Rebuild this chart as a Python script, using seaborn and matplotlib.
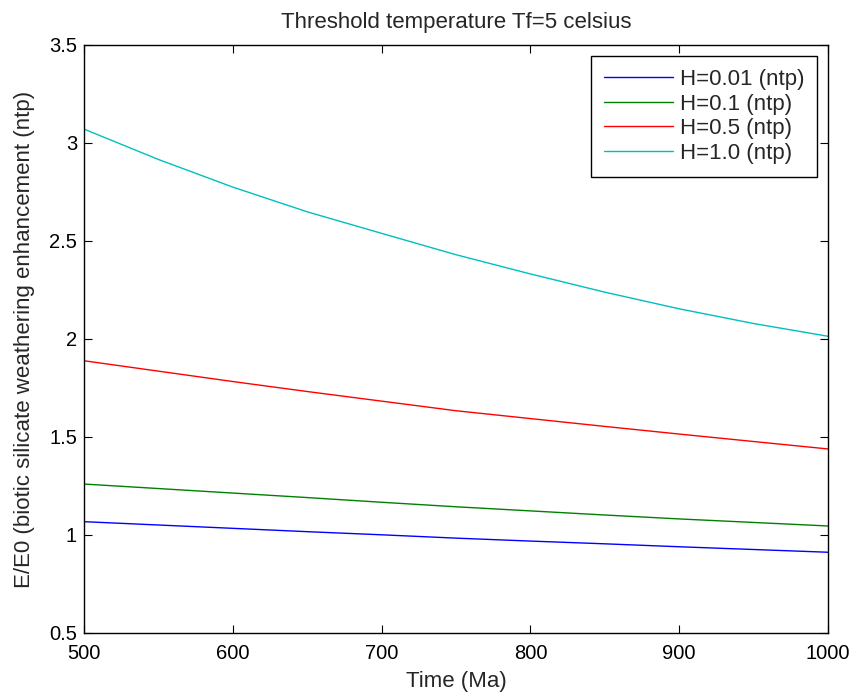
import matplotlib
matplotlib.use("Agg")
import matplotlib.pyplot as plt
import seaborn as sns
import pandas as pd

# Data
time_ma = [500, 550, 600, 650, 700, 750, 800, 850, 900, 950, 1000]
h001 = [1.068, 1.051, 1.034, 1.017, 1.001, 0.984, 0.969, 0.955, 0.940, 0.926, 0.912]
h01 = [1.260, 1.237, 1.214, 1.191, 1.167, 1.144, 1.123, 1.102, 1.082, 1.064, 1.046]
h05 = [1.889, 1.836, 1.783, 1.732, 1.683, 1.634, 1.594, 1.554, 1.515, 1.477, 1.439]
h10 = [3.071, 2.916, 2.775, 2.649, 2.539, 2.430, 2.332, 2.239, 2.154, 2.079, 2.014]
series_names = ["H=0.01 (ntp)", "H=0.1 (ntp)", "H=0.5 (ntp)", "H=1.0 (ntp)"]
colors = ["#0000ff", "#008000", "#ff0000", "#00bfbf"]
x_ticks = [500, 600, 700, 800, 900, 1000]
y_ticks = [0.5, 1, 1.5, 2, 2.5, 3, 3.5]
y_tick_labels = ["0.5", "1", "1.5", "2", "2.5", "3", "3.5"]

rows = []
for name, vals in zip(series_names, [h001, h01, h05, h10]):
    for t, v in zip(time_ma, vals):
        rows.append({"Time": t, "E": v, "Series": name})
df = pd.DataFrame(rows)

sns.set_style("ticks")
plt.rcParams["font.family"] = ["Liberation Sans", "DejaVu Sans"]

fig = plt.figure(figsize=(8.58, 6.96), dpi=100)
ax = fig.add_axes([84 / 858, 1 - 633 / 696, (828 - 84) / 858, (633 - 45) / 696])

sns.lineplot(data=df, x="Time", y="E", hue="Series", hue_order=series_names,
             palette=colors, linewidth=1.0, ax=ax)

ax.set_xlim(500, 1000)
ax.set_ylim(0.5, 3.5)
ax.set_xticks(x_ticks)
ax.set_xticklabels([str(t) for t in x_ticks])
ax.set_yticks(y_ticks)
ax.set_yticklabels(y_tick_labels)
ax.tick_params(direction="in", length=6, width=0.8, labelsize=14.5,
               top=True, right=True, colors="black")
ax.tick_params(axis="x", pad=8)
ax.tick_params(axis="y", pad=5)
for s in ax.spines.values():
    s.set_visible(True)
    s.set_color("black")
    s.set_linewidth(1.0)

ax.set_xlabel("Time (Ma)", fontsize=16, labelpad=6)
ax.set_ylabel("E/E0 (biotic silicate weathering enhancement (ntp)", fontsize=16, labelpad=10)
ax.set_title("Threshold temperature Tf=5 celsius", fontsize=16, pad=12)

leg = ax.legend(loc="upper right", fontsize=16, frameon=True, fancybox=False,
                edgecolor="black", framealpha=1, handlelength=3.1,
                borderaxespad=0.5, labelspacing=0.16, borderpad=0.58, handletextpad=0.3)
leg.get_frame().set_linewidth(1.0)

fig.savefig("out.png", dpi=100, facecolor="white")
